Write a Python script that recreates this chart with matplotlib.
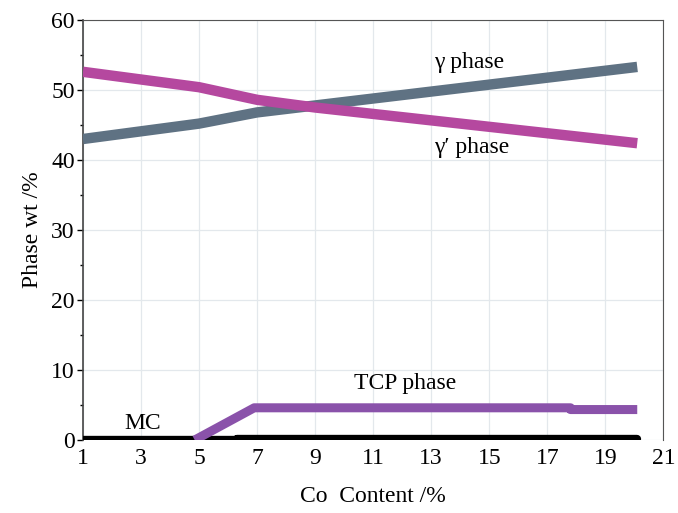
import matplotlib
matplotlib.use("Agg")
import matplotlib.pyplot as plt
from matplotlib.ticker import MultipleLocator

# data
gamma_x = [1, 5, 7, 20.1]
gamma_y = [43.0, 45.2, 46.8, 53.3]

gprime_x = [1, 5, 7, 9, 20.1]
gprime_y = [52.6, 50.4, 48.6, 47.5, 42.4]

tcp_x = [4.85, 6.9, 17.8, 17.8, 20.1]
tcp_y = [0.0, 4.6, 4.6, 4.35, 4.35]

mc_x = [1, 6.3, 6.3, 20.1]
mc_y = [0.0, 0.0, 0.15, 0.15]

x_ticks = [1, 3, 5, 7, 9, 11, 13, 15, 17, 19, 21]

plt.rcParams['font.family'] = ['Liberation Serif', 'DejaVu Serif']

fig = plt.figure(figsize=(6.78, 5.13), dpi=100)
ax = fig.add_axes([0.1224, 0.1423, 0.856, 0.8187])

ax.plot(mc_x, mc_y, color='black', lw=6, solid_capstyle='round', zorder=3)
ax.plot(tcp_x, tcp_y, color='#8a52aa', lw=6.5, solid_capstyle='butt', zorder=4)
ax.plot(gamma_x, gamma_y, color='#5f7283', lw=7.5, solid_capstyle='butt', zorder=4)
ax.plot(gprime_x, gprime_y, color='#b5489f', lw=7.5, solid_capstyle='butt', zorder=5)

ax.text(14.3, 54.0, "\u03b3 phase", fontsize=17, ha='center', va='center')
ax.text(14.4, 41.8, "\u03b3\u2032 phase", fontsize=17, ha='center', va='center')
ax.text(12.1, 8.1, "TCP phase", fontsize=17, ha='center', va='center')
ax.text(3.05, 2.4, "MC", fontsize=17, ha='center', va='center')

ax.set_xlim(1, 21)
ax.set_ylim(0, 60)
ax.set_xticks(x_ticks)
ax.yaxis.set_major_locator(MultipleLocator(10))
ax.yaxis.set_minor_locator(MultipleLocator(5))
ax.grid(True, color='#e3e8ec', lw=0.9)
ax.set_axisbelow(True)

ax.tick_params(axis='x', length=0, labelsize=17, pad=6)
ax.tick_params(axis='y', which='major', length=4, width=1, labelsize=17, pad=2)
ax.tick_params(axis='y', which='minor', length=2.5, width=1)

for s in ['top', 'right']:
    ax.spines[s].set_color('#555555')
ax.spines['left'].set_color('#444444')
ax.spines['left'].set_linewidth(1.2)
ax.spines['bottom'].set_visible(False)

ax.set_xlabel("Co  Content /%", fontsize=17, labelpad=12)
ax.set_ylabel("Phase wt /%", fontsize=17, labelpad=6)

fig.savefig("out.png", dpi=100)
